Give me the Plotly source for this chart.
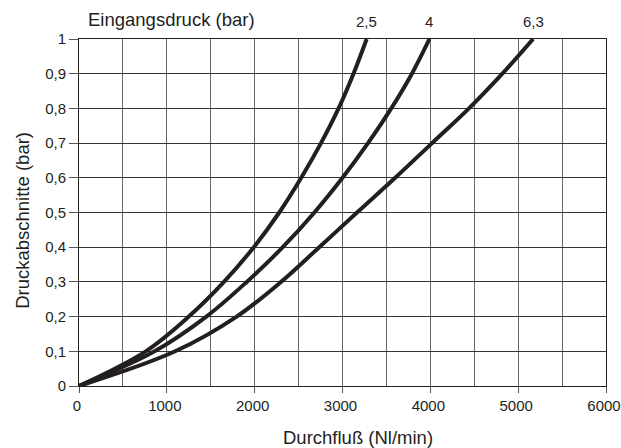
import plotly.graph_objects as go

# Durchfluss (Nl/min) bei Druckabfall (bar), je Eingangsdruck
dp = [0, 0.1, 0.2, 0.3, 0.4, 0.5, 0.6, 0.7, 0.8, 0.9, 1.0]
flow_25 = [0, 760, 1250, 1650, 1990, 2280, 2530, 2755, 2955, 3125, 3275]
flow_40 = [0, 860, 1450, 1910, 2320, 2680, 3000, 3290, 3555, 3790, 3990]
flow_63 = [0, 1095, 1795, 2300, 2735, 3165, 3600, 4020, 4440, 4820, 5170]

curve_labels = ["2,5", "4", "6,3"]

x_ticks = [0, 1000, 2000, 3000, 4000, 5000, 6000]
y_ticks = [0, 0.1, 0.2, 0.3, 0.4, 0.5, 0.6, 0.7, 0.8, 0.9, 1.0]
y_ticktext = ["0", "0,1", "0,2", "0,3", "0,4", "0,5", "0,6", "0,7", "0,8", "0,9", "1"]

INK = "#231f20"
FONT = "Liberation Sans, Arial, sans-serif"

fig = go.Figure()
curves = (flow_25, flow_40, flow_63)
for flows in curves:
    fig.add_trace(go.Scatter(
        x=flows, y=dp, mode="lines",
        line=dict(color=INK, width=4, shape="spline", smoothing=1.0),
        showlegend=False, hoverinfo="skip",
    ))

# labels above the curve ends
for lab, flows in zip(curve_labels, curves):
    fig.add_annotation(text=lab, x=flows[-1], xref="x", yref="paper", y=1.0, yshift=18,
                       xanchor="center", yanchor="middle", showarrow=False,
                       font=dict(size=15, color=INK, family=FONT))

fig.add_annotation(text="Eingangsdruck (bar)", xref="paper", yref="paper",
                   x=0.013, y=1.0, yshift=20, xanchor="left", yanchor="middle",
                   showarrow=False, font=dict(size=18.5, color=INK, family=FONT))
fig.add_annotation(text="Durchfluß (Nl/min)", xref="paper", yref="paper",
                   x=0.529, y=0, yshift=-51, xanchor="center", yanchor="middle",
                   showarrow=False, font=dict(size=18.5, color=INK, family=FONT))
fig.add_annotation(text="Druckabschnitte (bar)", xref="paper", yref="paper",
                   x=-0.1087, y=0.478, xanchor="center", yanchor="middle", textangle=-90,
                   showarrow=False, font=dict(size=18.5, color=INK, family=FONT))

fig.update_layout(
    width=621, height=448,
    margin=dict(l=79, r=15, t=39, b=62),
    paper_bgcolor="white", plot_bgcolor="white",
    font=dict(family=FONT, size=15, color=INK),
    xaxis=dict(
        range=[0, 6000], tickvals=x_ticks, ticktext=[str(v) for v in x_ticks],
        showgrid=True, gridcolor="#666666", gridwidth=1,
        minor=dict(dtick=500, showgrid=True, gridcolor="#666666", gridwidth=1),
        ticks="outside", ticklen=6, tickcolor="#555555",
        ticklabeloverflow="allow", ticklabelshift=-2,
        showline=True, linecolor=INK, linewidth=1, mirror=True,
        zeroline=False, automargin=False,
    ),
    yaxis=dict(
        range=[0, 1], tickvals=y_ticks, ticktext=y_ticktext,
        showgrid=True, gridcolor="#333333", gridwidth=1,
        ticks="outside", ticklen=9, tickcolor="#555555",
        showline=True, linecolor=INK, linewidth=1, mirror=True,
        zeroline=False, automargin=False,
    ),
)

# drop the default 8px body margin so the figure fills the window exactly
fig.write_html("out.html", config={"displayModeBar": False},
               post_script="document.body.style.margin='0';")
